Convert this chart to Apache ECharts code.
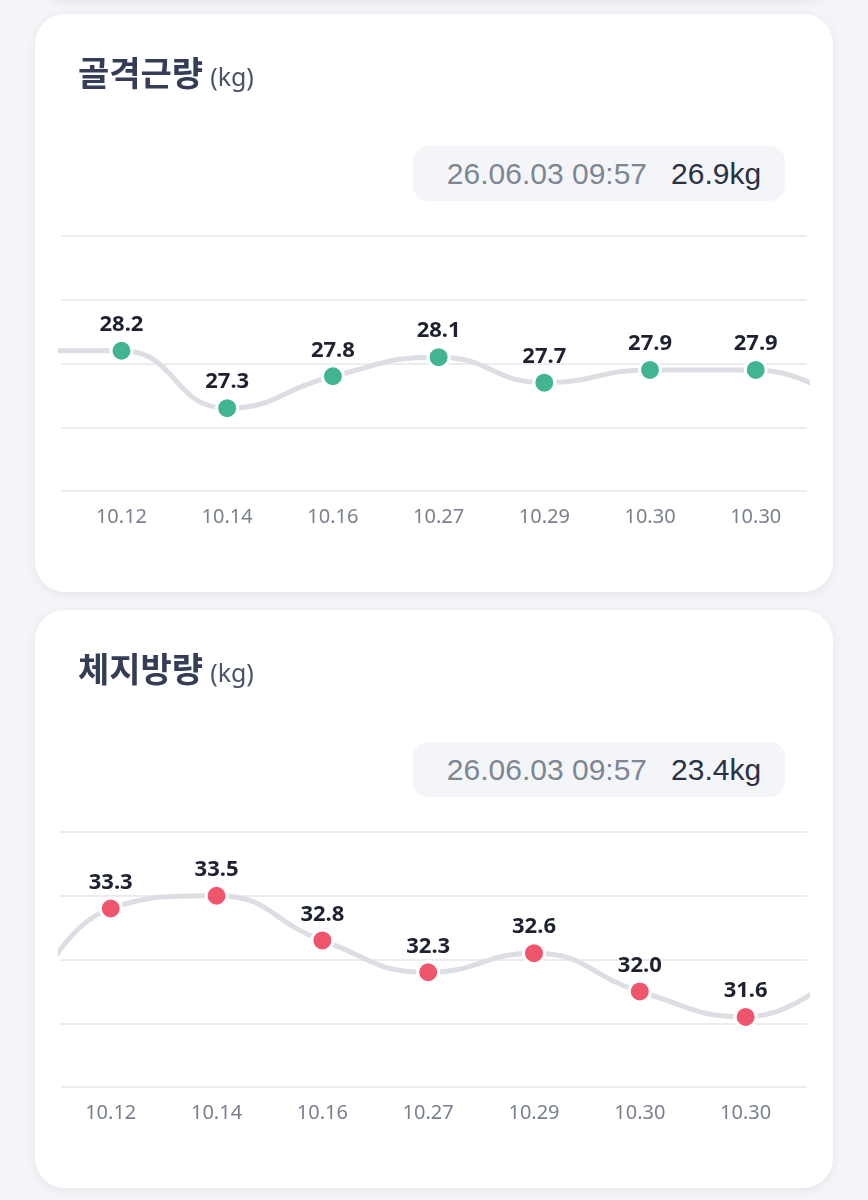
<!DOCTYPE html>
<html lang="ko">
<head>
<meta charset="UTF-8">
<title>골격근량 / 체지방량</title>
<script src="https://cdn.jsdelivr.net/npm/echarts@6/dist/echarts.min.js"></script>
<style>
  html, body { margin: 0; padding: 0; background: #f4f5f8; }
  body { width: 868px; height: 1200px; position: relative; overflow: hidden; }
  .card {
    position: absolute; left: 35px; width: 798px; height: 578px;
    background: #fff; border-radius: 30px;
    box-shadow: 0 2px 10px rgba(40, 50, 70, 0.08);
  }
  .chart { position: absolute; left: 0; top: 0; width: 798px; height: 578px; }
  .title {
    position: absolute; left: 43px; top: 36px; line-height: 44px;
    font-family: "Noto Sans CJK KR", sans-serif; font-weight: 700;
    font-size: 34px; color: #343d55; white-space: nowrap; z-index: 2;
  }
  .title small {
    font-family: "Noto Sans", sans-serif; font-weight: 400;
    font-size: 25px; color: #4a5369; margin-left: 7px;
  }
  .badge {
    position: absolute; left: 378px; top: 132px; width: 372px; height: 55px;
    box-sizing: border-box; padding-left: 10px;
    background: #f3f5f8; border-radius: 15px; z-index: 2;
    display: flex; align-items: center; justify-content: center; gap: 24px;
    font-family: "Liberation Sans", Arial, sans-serif; font-size: 30px;
  }
  .badge .d { color: #7d8794; }
  .badge .v { color: #2b3142; }
</style>
</head>
<body>
<div class="card" style="top:-600px;height:600px;"></div>

<div class="card" style="top:14px;">
  <div class="title">골격근량<small>(kg)</small></div>
  <div class="badge"><span class="d">26.06.03 09:57</span><span class="v">26.9kg</span></div>
  <div class="chart" id="chart0"></div>
</div>

<div class="card" style="top:610px;">
  <div class="title">체지방량<small>(kg)</small></div>
  <div class="badge"><span class="d">26.06.03 09:57</span><span class="v">23.4kg</span></div>
  <div class="chart" id="chart1"></div>
</div>

<script type="text/javascript">
  // dates shown under both charts
  var dates = ['10.12', '10.14', '10.16', '10.27', '10.29', '10.30', '10.30'];

  // 골격근량 (skeletal muscle) - visible points and the off-screen neighbours
  var muscle = [28.2, 27.3, 27.8, 28.1, 27.7, 27.9, 27.9];
  var musclePrev = 28.2, muscleNext = 27.2;

  // 체지방량 (body fat)
  var fat = [33.3, 33.5, 32.8, 32.3, 32.6, 32.0, 31.6];
  var fatPrev = 30.8, fatNext = 32.5;

  function buildData(vals, prev, next) {
    var out = [{ value: [-1, prev], symbol: 'none', label: { show: false } }];
    for (var i = 0; i < vals.length; i++) {
      out.push({ value: [i, vals[i]] });
    }
    out.push({ value: [vals.length, next], symbol: 'none', label: { show: false } });
    return out;
  }

  function getOption(vals, prev, next, color, xr, yr) {
    return {
      animation: false,
      grid: { left: 26, right: 26, top: 222, height: 255 },
      xAxis: {
        type: 'value', min: xr[0], max: xr[1],
        axisLine: { show: false }, axisTick: { show: false },
        splitLine: { show: false },
        axisLabel: {
          customValues: [0, 1, 2, 3, 4, 5, 6],
          formatter: function (v) { return dates[Math.round(v)]; },
          fontFamily: 'Noto Sans', fontSize: 20, color: '#7a818d', margin: 16
        }
      },
      yAxis: {
        type: 'value', min: yr[0], max: yr[1], interval: 1,
        axisLine: { show: false }, axisTick: { show: false },
        axisLabel: { show: false },
        splitLine: { lineStyle: { color: '#eaecf0', width: 2 } }
      },
      series: [{
        type: 'line', smooth: true, clip: true,
        data: buildData(vals, prev, next),
        symbol: 'circle', symbolSize: 21,
        lineStyle: { color: '#dcdee3', width: 5 },
        itemStyle: { color: color, borderColor: '#fff', borderWidth: 3 },
        label: {
          show: true, position: 'top', distance: 3,
          fontFamily: 'Noto Sans', fontWeight: 'bold', fontSize: 22, color: '#1e2230',
          formatter: function (p) { return p.value[1].toFixed(1); }
        }
      }]
    };
  }

  var c0 = echarts.init(document.getElementById('chart0'));
  c0.setOption(getOption(muscle, musclePrev, muscleNext, '#41b592', [-0.572, 6.485], [26, 30]));

  var c1 = echarts.init(document.getElementById('chart1'));
  c1.setOption(getOption(fat, fatPrev, fatNext, '#ef566e', [-0.47, 6.58], [30.5, 34.5]));
</script>
</body>
</html>
